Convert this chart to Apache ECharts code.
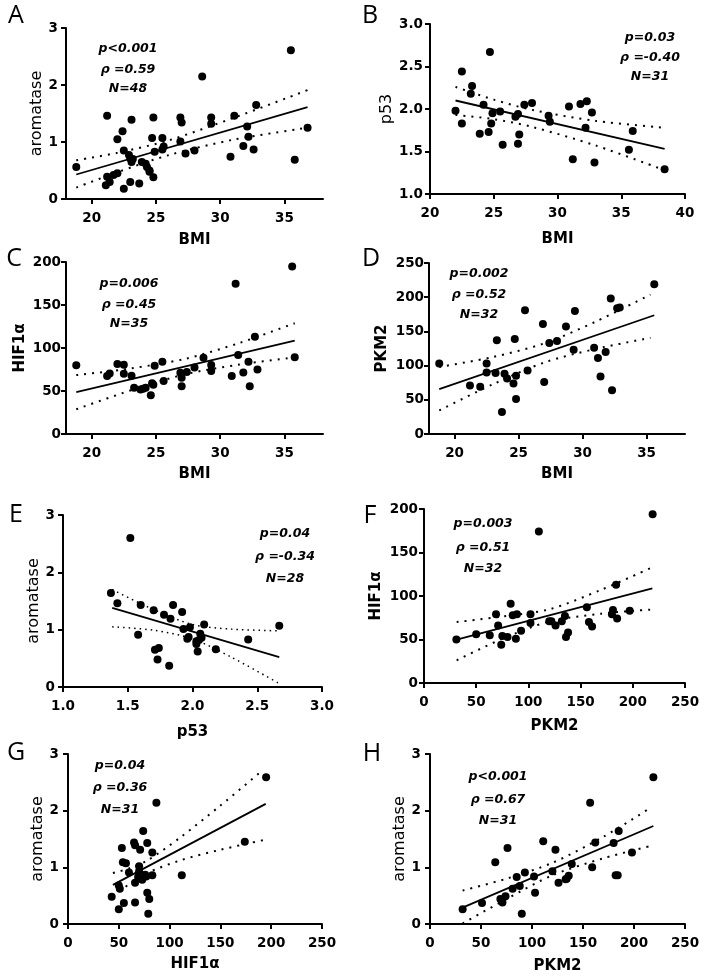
<!DOCTYPE html>
<html><head><meta charset="utf-8">
<script src="https://cdn.jsdelivr.net/npm/echarts@6/dist/echarts.min.js"></script>
<style>html,body{margin:0;padding:0;background:#fff}#c{width:704px;height:979px}</style>
</head><body><div id="c"></div>
<script>
// ---------- Panel A: aromatase vs BMI ----------
const aX = [18.8,21.2,21.1,21.2,21.4,21.7,22.0,22.0,22.4,22.5,22.5,23.0,23.1,22.9,23.0,23.1,23.7,23.9,24.2,24.3,24.5,24.7,24.5,24.8,24.8,24.9,25.5,25.5,25.6,26.9,27.0,26.9,27.3,28.0,28.6,29.3,29.3,30.8,31.1,31.8,32.1,32.2,32.6,32.8,35.5,35.8,36.8,23.2];
const aY = [0.56,1.46,0.24,0.39,0.30,0.42,0.45,1.05,1.19,0.85,0.18,0.30,1.39,0.77,0.71,0.65,0.27,0.65,0.62,0.56,0.50,1.07,0.48,0.38,1.43,0.83,1.07,0.87,0.92,1.43,1.34,1.01,0.80,0.85,2.15,1.43,1.32,0.74,1.46,0.93,1.27,1.09,0.87,1.65,2.61,0.69,1.25,0.70];
const aFitX = [18.8, 36.8], aFitY = [0.43, 1.61];
const aBandX = [18.8, 22, 26, 31, 36.8];
const aUpper = [0.68, 0.81, 1.03, 1.42, 1.91];
const aLower = [0.20, 0.47, 0.77, 1.04, 1.25];
const aText = ['p<0.001', 'ρ =0.59', 'N=48'];

// ---------- Panel B: p53 vs BMI ----------
const bX = [22.0,22.5,22.5,23.2,23.3,24.2,23.9,24.7,24.6,24.8,24.9,25.5,25.7,26.7,26.9,27.0,26.9,27.4,28.0,29.3,29.4,30.9,31.2,31.8,32.3,32.2,32.7,32.9,35.6,35.9,38.4];
const bY = [1.98,2.44,1.83,2.18,2.27,2.05,1.71,2.67,1.73,1.83,1.95,1.97,1.58,1.91,1.94,1.70,1.59,2.05,2.07,1.92,1.85,2.03,1.41,2.06,2.09,1.78,1.96,1.37,1.52,1.74,1.29];
const bFitX = [22.0, 38.4], bFitY = [2.10, 1.53];
const bBandX = [22, 25, 28, 33, 38.4];
const bUpper = [2.26, 2.11, 1.99, 1.86, 1.78];
const bLower = [1.93, 1.88, 1.79, 1.57, 1.28];
const bText = ['p=0.03', 'ρ =-0.40', 'N=31'];

// ---------- Panel C: HIF1α vs BMI ----------
const cX = [18.8,21.2,21.4,22.0,22.5,22.5,23.1,23.3,23.8,24.0,24.2,24.6,24.7,24.8,24.9,25.5,25.6,26.9,27.0,27.0,27.4,28.0,28.7,29.3,29.3,30.9,31.2,31.4,31.8,32.2,32.3,32.7,32.9,35.6,35.8];
const cY = [79.8,67.3,70.4,81.3,80.5,70.0,67.7,53.7,51.8,52.5,53.7,45.1,59.1,57.2,79.4,84.0,61.5,71.2,65.4,55.6,72.0,77.4,88.7,80.2,73.2,67.3,174.7,91.8,71.6,84.0,55.6,113.2,75.1,194.9,89.1];
const cFitX = [18.8, 35.8], cFitY = [48.6, 108.6];
const cBandX = [18.8, 23, 27.3, 31.5, 35.8];
const cUpper = [68.5, 76.1, 87.5, 105.9, 128.8];
const cLower = [28.8, 50.5, 69.5, 80.7, 89.0];
const cText = ['p=0.006', 'ρ =0.45', 'N=35'];

// ---------- Panel D: PKM2 vs BMI ----------
const dX = [18.8,21.2,22.0,22.5,22.5,23.2,23.3,23.9,24.1,23.7,24.6,24.7,24.8,24.8,25.5,25.7,26.9,27.0,27.4,28.0,28.7,29.4,29.3,30.9,31.2,31.4,31.8,32.2,32.3,32.7,32.9,35.6];
const dY = [103,71,69,103,90,89,137,88,81,32,74,139,85,51,181,93,161,76,133,136,157,180,123,126,111,84,120,198,64,184,185,219];
const dFitX = [18.8, 35.6], dFitY = [65.7, 173.6];
const dBandX = [18.8, 23, 27, 31, 35.3];
const dUpper = [98, 112.6, 132.5, 164.1, 203.8];
const dLower = [34.5, 72.8, 104.5, 124.3, 140.6];
const dText = ['p=0.002', 'ρ =0.52', 'N=32'];

// ---------- Panel E: aromatase vs p53 ----------
const eX = [1.37,1.42,1.52,1.58,1.60,1.70,1.71,1.74,1.73,1.78,1.82,1.83,1.85,1.92,1.93,1.96,1.97,1.98,2.03,2.04,2.05,2.06,2.07,2.09,2.18,2.43,2.67,2.03];
const eY = [1.64,1.46,2.60,0.91,1.43,1.34,0.65,0.68,0.48,1.26,0.37,1.19,1.43,1.31,1.01,0.84,0.87,1.04,0.75,0.62,0.82,0.93,0.86,1.09,0.66,0.83,1.07,0.80];
const eFitX = [1.38, 2.67], eFitY = [1.38, 0.52];
const eBandX = [1.38, 1.7, 2.0, 2.3, 2.67];
const eUpper = [1.70, 1.35, 1.09, 1.01, 0.98];
const eLower = [1.05, 0.99, 0.84, 0.52, 0.06];
const eText = ['p=0.04', 'ρ =-0.34', 'N=28'];

// ---------- Panel F: HIF1α vs PKM2 ----------
const fX = [31,50,63,69,71,75,74,80,83,85,88,89,93,102,102,110,120,122,126,132,135,136,138,156,158,161,180,181,184,185,197,219];
const fY = [50,56,55,79,66,54,44,53,91,78,51,79,60,79,69,174,71,71,66,71,77,53,58,87,70,65,79,84,113,74,83,194];
const fFitX = [31.3, 218.7], fFitY = [49.8, 108.8];
const fBandX = [31.3, 75, 120, 170, 218.7];
const fUpper = [70.1, 76.4, 84.7, 107.3, 133.0];
const fLower = [26.1, 50.8, 70.7, 79.7, 84.5];
const fText = ['p=0.003', 'ρ =0.51', 'N=32'];

// ---------- Panel G: aromatase vs HIF1α ----------
const gX = [43,50,51,50,53,54,57,55,60,65,66,66,66,69,70,71,70,74,78,78,77,80,79,83,83,87,112,174,195,73,76];
const gY = [0.48,0.68,0.62,0.26,1.34,1.09,1.07,0.37,0.91,1.44,1.39,0.38,0.73,0.83,1.02,1.31,0.93,1.64,1.43,0.55,0.84,0.44,0.18,1.26,0.86,2.14,0.86,1.45,2.59,0.78,0.87];
const gFitX = [44.2, 194.6], gFitY = [0.69, 2.12];
const gBandX = [44.2, 60, 78, 110, 150, 192];
const gUpper = [0.90, 0.98, 1.12, 1.52, 2.09, 2.72];
const gLower = [0.48, 0.70, 0.90, 1.12, 1.31, 1.48];
const gText = ['p=0.04', 'ρ =0.36', 'N=31'];

// ---------- Panel H: aromatase vs PKM2 ----------
const hX = [32,51,64,69,71,74,76,81,85,88,90,93,102,103,111,120,123,126,133,136,139,157,159,162,180,182,184,185,198,219,134];
const hY = [0.26,0.37,1.09,0.44,0.38,0.49,1.34,0.62,0.83,0.67,0.18,0.91,0.84,0.55,1.46,0.93,1.31,0.73,0.79,0.85,1.06,2.14,1.00,1.44,1.43,0.86,0.86,1.64,1.26,2.59,0.80];
const hFitX = [31.9, 219], hFitY = [0.29, 1.73];
const hBandX = [32, 75, 120, 170, 217];
const hUpper = [0.59, 0.80, 1.08, 1.54, 2.06];
const hLower = [0.01, 0.44, 0.86, 1.16, 1.38];
const hText = ['p<0.001', 'ρ =0.67', 'N=31'];

// tick values
const bmiTicks = [20, 25, 30, 35];

const zip = (xs, ys) => xs.map((x, i) => [x, ys[i]]);

// ---------- layout (positions/styles) ----------
const panels = [
  {L:'A', lp:[16,16], g:[66,28,257,171], x:aX,y:aY,fx:aFitX,fy:aFitY,bx:aBandX,bu:aUpper,bl:aLower,t:aText, tp:[128,49,70,89],
   xa:{min:18,max:38,custom:bmiTicks,name:'BMI',gap:34}, ya:{min:0,max:3,interval:1,name:'aromatase',gap:20,bold:false,margin:8}},
  {L:'B', lp:[370,16], g:[430,24,255,170], x:bX,y:bY,fx:bFitX,fy:bFitY,bx:bBandX,bu:bUpper,bl:bLower,t:bText, tp:[650,38,58,77],
   xa:{min:20,max:40,interval:5,name:'BMI',gap:38}, ya:{min:1,max:3,interval:0.5,name:'p53',gap:35,bold:false,margin:7,fixed:1}},
  {L:'C', lp:[14,259], g:[66,262,257,172], x:cX,y:cY,fx:cFitX,fy:cFitY,bx:cBandX,bu:cUpper,bl:cLower,t:cText, tp:[129,284,305,324],
   xa:{min:18,max:38,custom:bmiTicks,name:'BMI',gap:33}, ya:{min:0,max:200,interval:50,name:'HIF1α',gap:38,bold:true,margin:5}},
  {L:'D', lp:[371,259], g:[429,263,256,171], x:dX,y:dY,fx:dFitX,fy:dFitY,bx:dBandX,bu:dUpper,bl:dLower,t:dText, tp:[479,274,295,315],
   xa:{min:18,max:38,custom:bmiTicks,name:'BMI',gap:33}, ya:{min:0,max:250,interval:50,name:'PKM2',gap:39,bold:true,margin:5}},
  {L:'E', lp:[16,515], g:[63,515,259,172], x:eX,y:eY,fx:eFitX,fy:eFitY,bx:eBandX,bu:eUpper,bl:eLower,t:eText, tp:[285,534,557,579], thin:true,
   xa:{min:1,max:3,interval:0.5,name:'p53',gap:38,fixed:1}, ya:{min:0,max:3,interval:1,name:'aromatase',gap:17,bold:false,margin:8}},
  {L:'F', lp:[370,516], g:[424,509,261,174], x:fX,y:fY,fx:fFitX,fy:fFitY,bx:fBandX,bu:fUpper,bl:fLower,t:fText, tp:[483,524,548,569],
   xa:{min:0,max:250,interval:50,name:'PKM2',gap:36}, ya:{min:0,max:200,interval:50,name:'HIF1α',gap:40,bold:true,margin:6}},
  {L:'G', lp:[16,753], g:[68,754,254,170], x:gX,y:gY,fx:gFitX,fy:gFitY,bx:gBandX,bu:gUpper,bl:gLower,t:gText, tp:[120,766,788,810],
   xa:{min:0,max:250,interval:50,name:'HIF1α',gap:33}, ya:{min:0,max:3,interval:1,name:'aromatase',gap:21,bold:false,margin:9}},
  {L:'H', lp:[372,754], g:[430,754,255,170], x:hX,y:hY,fx:hFitX,fy:hFitY,bx:hBandX,bu:hUpper,bl:hLower,t:hText, tp:[498,777,800,821],
   xa:{min:0,max:250,interval:50,name:'PKM2',gap:35}, ya:{min:0,max:3,interval:1,name:'aromatase',gap:21,bold:false,margin:9}}
];

const FONT = 'DejaVu Sans';
const axisCommon = {
  type: 'value',
  axisLine: {show: true, onZero: false, lineStyle: {color: '#000', width: 2}},
  axisTick: {show: true, length: 5, lineStyle: {color: '#000', width: 2}},
  splitLine: {show: false},
  nameLocation: 'middle'
};

const grids = [], xAxes = [], yAxes = [], series = [], graphics = [];
panels.forEach((p, i) => {
  grids.push({left: p.g[0], top: p.g[1], width: p.g[2], height: p.g[3], containLabel: false, outerBoundsMode: 'none'});
  const xa = {
    ...axisCommon, gridIndex: i, min: p.xa.min, max: p.xa.max,
    name: p.xa.name, nameGap: p.xa.gap,
    nameTextStyle: {fontFamily: FONT, fontWeight: 'bold', fontSize: 15, color: '#000'},
    axisLabel: {color: '#000', fontFamily: FONT, fontWeight: 'bold', fontSize: 13.5, margin: 12,
      formatter: v => p.xa.fixed ? v.toFixed(p.xa.fixed) : String(v)},
    axisTick: {...axisCommon.axisTick}
  };
  if (p.xa.custom) { xa.axisLabel.customValues = p.xa.custom; xa.axisTick.customValues = p.xa.custom; }
  else xa.interval = p.xa.interval;
  xAxes.push(xa);
  yAxes.push({
    ...axisCommon, gridIndex: i, min: p.ya.min, max: p.ya.max, interval: p.ya.interval,
    name: p.ya.name, nameGap: p.ya.gap, nameRotate: 90,
    nameTextStyle: {fontFamily: FONT, fontWeight: p.ya.bold ? 'bold' : 'normal', fontSize: p.ya.bold ? 15 : 16, color: '#000'},
    axisLabel: {color: '#000', fontFamily: FONT, fontWeight: 'bold', fontSize: 13.5, margin: p.ya.margin,
      formatter: v => p.ya.fixed ? v.toFixed(p.ya.fixed) : String(v)}
  });
  const dotStyle = {color: '#000', width: p.thin ? 1.5 : 2, type: p.thin ? [1.5, 4] : [2, 6]};
  series.push({type: 'line', xAxisIndex: i, yAxisIndex: i, data: zip(p.bx, p.bu), showSymbol: false, smooth: 0.3,
    lineStyle: dotStyle, silent: true, z: 1});
  series.push({type: 'line', xAxisIndex: i, yAxisIndex: i, data: zip(p.bx, p.bl), showSymbol: false, smooth: 0.3,
    lineStyle: dotStyle, silent: true, z: 1});
  series.push({type: 'line', xAxisIndex: i, yAxisIndex: i, data: zip(p.fx, p.fy), showSymbol: false,
    lineStyle: {color: '#000', width: 1.8}, silent: true, z: 2});
  series.push({type: 'scatter', xAxisIndex: i, yAxisIndex: i, data: zip(p.x, p.y), symbol: 'circle', symbolSize: 8,
    itemStyle: {color: '#000', opacity: 1}, z: 3});
  graphics.push({type: 'text', x: p.lp[0], y: p.lp[1],
    style: {text: p.L, font: '25px "Open Sans"', fill: '#000', align: 'center', verticalAlign: 'middle'}});
  p.t.forEach((s, k) => {
    graphics.push({type: 'text', x: p.tp[0], y: p.tp[k + 1],
      style: {text: s, font: 'italic bold 12.5px "DejaVu Sans"', fill: '#000', align: 'center', verticalAlign: 'middle'}});
  });
});

const chart = echarts.init(document.getElementById('c'), null, {renderer: 'canvas'});
chart.setOption({
  animation: false,
  backgroundColor: '#fff',
  grid: grids, xAxis: xAxes, yAxis: yAxes, series: series, graphic: graphics
});
</script></body></html>
